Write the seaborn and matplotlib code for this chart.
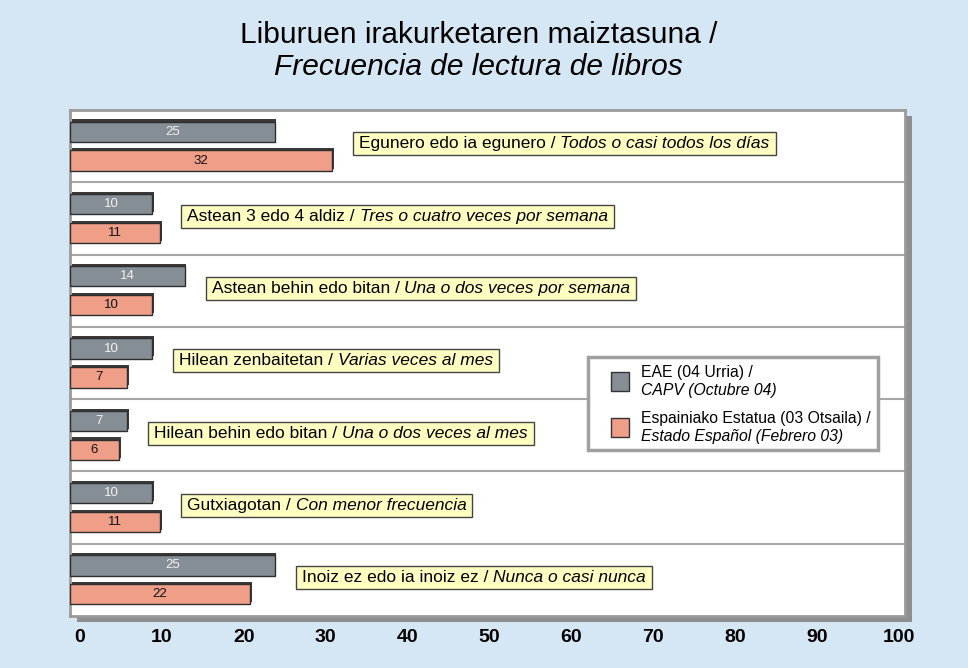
import pandas as pd
import matplotlib.pyplot as plt
import matplotlib.transforms as mtransforms
from matplotlib.patches import Rectangle
from matplotlib.transforms import Bbox
import seaborn as sns

sns.set_style("white")
plt.rcParams['font.family'] = ['Liberation Sans', 'DejaVu Sans']
plt.rcParams['text.color'] = 'black'
plt.rcParams['xtick.color'] = 'black'

# Data
cats_eu = ["Egunero edo ia egunero", "Astean 3 edo 4 aldiz", "Astean behin edo bitan",
           "Hilean zenbaitetan", "Hilean behin edo bitan", "Gutxiagotan",
           "Inoiz ez edo ia inoiz ez"]
cats_es = ["Todos o casi todos los días", "Tres o cuatro veces por semana",
           "Una o dos veces por semana", "Varias veces al mes", "Una o dos veces al mes",
           "Con menor frecuencia", "Nunca o casi nunca"]
capv = [25, 10, 14, 10, 7, 10, 25]
spain = [32, 11, 10, 7, 6, 11, 22]
series_eu = ["EAE (04 Urria) /", "Espainiako Estatua (03 Otsaila) /"]
series_es = ["CAPV (Octubre 04)", "Estado Español (Febrero 03)"]
xticks = [0, 10, 20, 30, 40, 50, 60, 70, 80, 90, 100]

colors = ["#858d95", "#ef9f88"]
bg = "#d5e6f4"

df = pd.DataFrame({
    "cat": cats_eu * 2,
    "value": capv + spain,
    "series": [series_eu[0]] * len(capv) + [series_eu[1]] * len(spain),
})

W, H = 968, 668
AX_L, AX_B, AX_W, AX_H = 70, 52, 835, 506

fig = plt.figure(figsize=(W / 100, H / 100), dpi=100, facecolor=bg)
ax = fig.add_axes([AX_L / W, AX_B / H, AX_W / W, AX_H / H])


def px(x, y):
    # figure pixel (from top-left) -> axes fraction
    return (x - AX_L) / AX_W, (H - y - AX_B) / AX_H


# 3D-ish shadow of the panel
fig.add_artist(Rectangle(((AX_L + 7) / W, (AX_B - 6) / H), AX_W / W, AX_H / H,
                         transform=fig.transFigure, facecolor="#8e8e8e",
                         edgecolor="none", zorder=-1))

sns.barplot(data=df, y="cat", x="value", hue="series", palette=colors,
            saturation=1, orient="h", width=0.8, gap=0.3, edgecolor="#2e2e2e",
            linewidth=1.0, legend=False, ax=ax, zorder=3)

# bar tops (pseudo 3D) and value labels
for ci, (cont, vals) in enumerate(zip(ax.containers, [capv, spain])):
    for p, v in zip(cont.patches, vals):
        ax.add_patch(Rectangle((p.get_x() + 0.2, p.get_y() - 0.03), p.get_width(),
                               p.get_height(), facecolor="#3a3a3a", edgecolor="none",
                               zorder=2))
        ax.text(v / 2, p.get_y() + p.get_height() / 2, str(v), ha="center", va="center",
                fontsize=9.5, color="#f2f2f2" if ci == 0 else "#111111", zorder=4)

ax.set_xlim(0, 102)
ax.set_ylim(len(cats_eu) - 0.5, -0.5)
ax.set_xticks(xticks)
ax.set_xticklabels([str(t) for t in xticks], fontsize=14, fontweight="bold")
ax.tick_params(axis="x", length=0, pad=9)
ax.set_yticks([])
ax.set_xlabel("")
ax.set_ylabel("")
offset = mtransforms.ScaledTranslation(0.1, 0, fig.dpi_scale_trans)
for lab in ax.get_xticklabels():
    lab.set_transform(lab.get_transform() + offset)

for s in ax.spines.values():
    s.set_color("#9a9a9a")
    s.set_linewidth(2)

for i in range(len(cats_eu) - 1):
    ax.axhline(i + 0.5, color="#a8a8a8", lw=1.5, zorder=1)

# category labels: basque normal + spanish italic
pairs = []
for i, (eu, es) in enumerate(zip(cats_eu, cats_es)):
    x0 = max(capv[i], spain[i]) + 3.3
    t1 = ax.text(x0, i - 0.03, eu + " / ", fontsize=12.5, va="center", ha="left", zorder=6)
    t2 = ax.annotate(es, xy=(1, 0), xycoords=t1, va="bottom", ha="left",
                     fontsize=12.5, style="italic", zorder=6)
    pairs.append((t1, t2))

# legend, drawn by hand (two-line labels, second line italic)
lx0, ly0 = px(588, 450)
lx1, ly1 = px(878, 357)
ax.add_patch(Rectangle((lx0, ly0), lx1 - lx0, ly1 - ly0, transform=ax.transAxes,
                       facecolor="white", edgecolor="#a0a0a0", lw=2.5, zorder=7))
for k, (c, eu, es) in enumerate(zip(colors, series_eu, series_es)):
    top = 372 + k * 46
    sx0, sy0 = px(611, top + 19)
    sx1, sy1 = px(629, top)
    ax.add_patch(Rectangle((sx0, sy0), sx1 - sx0, sy1 - sy0, transform=ax.transAxes,
                           facecolor=c, edgecolor="#333333", lw=1, zorder=8))
    tx, ty = px(641, top + 0.5)
    ax.text(tx, ty, eu, transform=ax.transAxes, fontsize=11.3, va="center",
            ha="left", zorder=9)
    tx, ty = px(641, top + 18.5)
    ax.text(tx, ty, es, transform=ax.transAxes, fontsize=11.3, va="center",
            ha="left", style="italic", zorder=9)

# title
fig.text(0.494, 1 - 35 / H, "Liburuen irakurketaren maiztasuna /", ha="center",
         va="center", fontsize=21.5)
fig.text(0.494, 1 - 67 / H, "Frecuencia de lectura de libros", ha="center",
         va="center", fontsize=21.5, style="italic")

# yellow boxes around the labels
fig.canvas.draw()
r = fig.canvas.get_renderer()
inv = ax.transAxes.inverted()
for t1, t2 in pairs:
    bb = Bbox.union([t1.get_window_extent(r), t2.get_window_extent(r)])
    bb = Bbox.from_extents(bb.x0 - 6, bb.y0 - 4, bb.x1 + 6, bb.y1 + 4)
    (ax0, ay0), (ax1, ay1) = inv.transform([[bb.x0, bb.y0], [bb.x1, bb.y1]])
    ax.add_patch(Rectangle((ax0, ay0), ax1 - ax0, ay1 - ay0, transform=ax.transAxes,
                           facecolor="#ffffc2", edgecolor="#444444", lw=1, zorder=5))

fig.savefig("out.png", dpi=100, facecolor=bg)
